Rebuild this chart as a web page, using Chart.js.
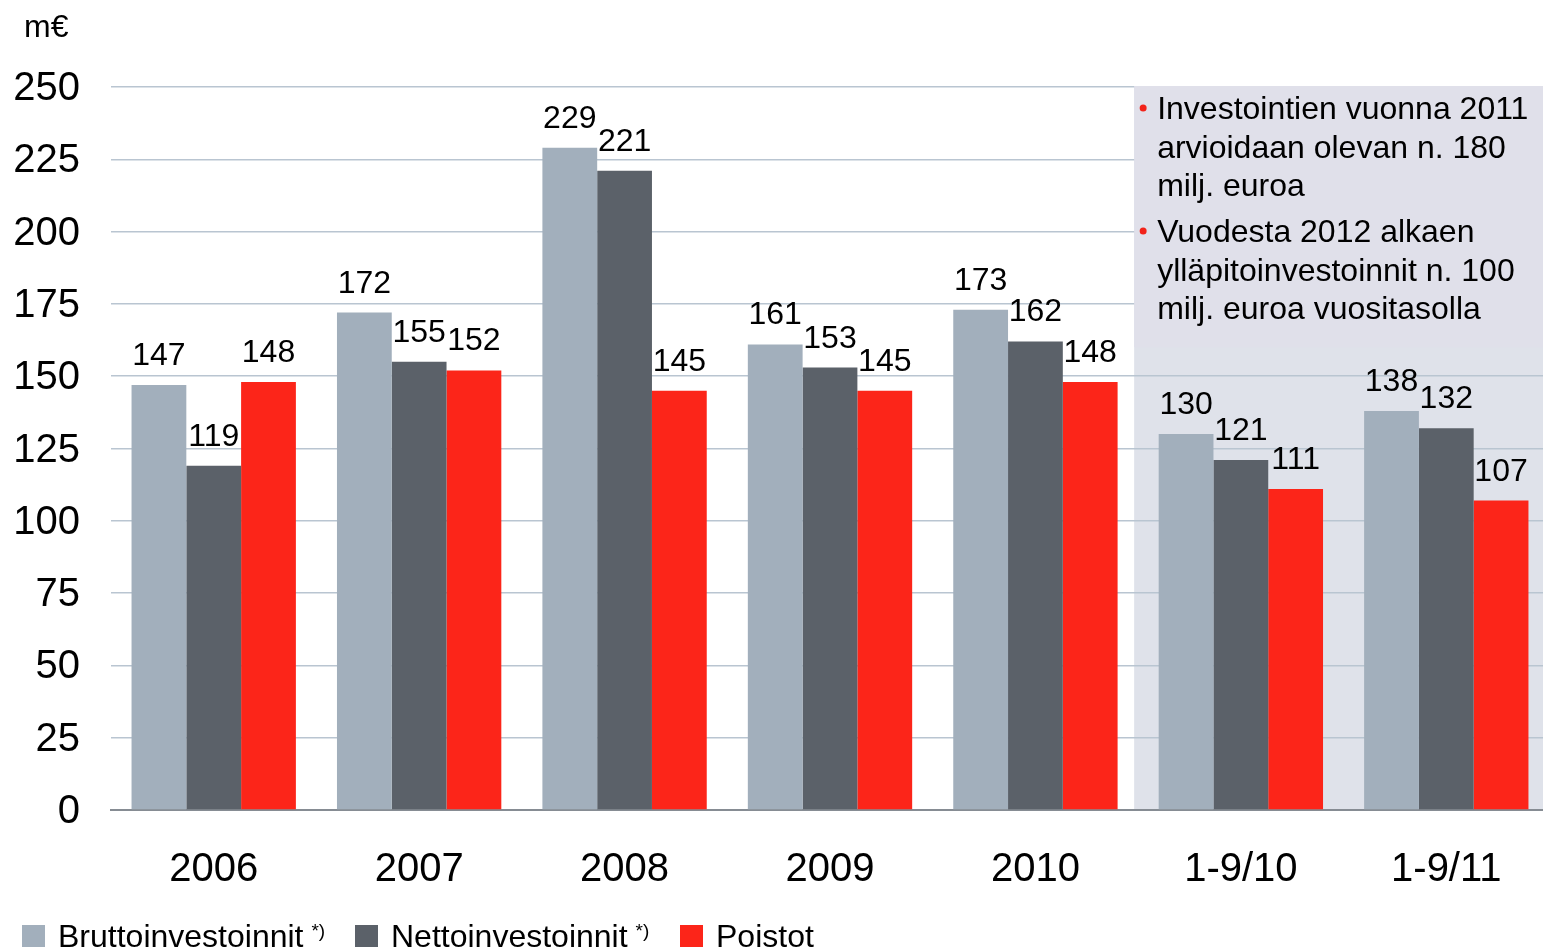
<!DOCTYPE html>
<html>
<head>
<meta charset="utf-8">
<script src="https://cdn.jsdelivr.net/npm/chart.js@4.4.1/dist/chart.umd.min.js"></script>
<style>
  html, body { margin: 0; padding: 0; background: #ffffff; overflow: hidden; }
  #wrap { position: relative; width: 1549px; height: 952px; }
  canvas { display: block; }
</style>
</head>
<body>
<div id="wrap"><canvas id="chart" width="1549" height="952"></canvas></div>
<script>
// Investments and depreciation, m€
const categories = ['2006', '2007', '2008', '2009', '2010', '1-9/10', '1-9/11'];
const brutto = [147, 172, 229, 161, 173, 130, 138];
const netto = [119, 155, 221, 153, 162, 121, 132];
const poistot = [148, 152, 145, 145, 148, 111, 107];
const yTicks = [0, 25, 50, 75, 100, 125, 150, 175, 200, 225, 250];

const seriesNames = ['Bruttoinvestoinnit', 'Nettoinvestoinnit', 'Poistot'];
const seriesNotes = ['*)', '*)', ''];
const seriesColors = ['#a2afbc', '#5b6169', '#fc2519'];

const noteLines = [
  ['Investointien vuonna 2011', 'arvioidaan olevan n. 180', 'milj. euroa'],
  ['Vuodesta 2012 alkaen', 'ylläpitoinvestoinnit n. 100', 'milj. euroa vuositasolla']
];

const FONT = '"Liberation Sans", Arial, Helvetica, sans-serif';

function shadeLeft(scales) {
  return (scales.x.getPixelForValue(4) + scales.x.getPixelForValue(5)) / 2 - 4;
}

// shaded column behind the interim periods
const shadePlugin = {
  id: 'shade',
  beforeDraw(chart) {
    const { ctx, chartArea, scales } = chart;
    const x0 = shadeLeft(scales);
    ctx.save();
    ctx.fillStyle = '#dfe2ea';
    ctx.fillRect(x0, chartArea.top - 1, chart.width - x0, chartArea.bottom - chartArea.top + 1);
    ctx.restore();
  },
  beforeDatasetsDraw(chart) {
    // note box sits over the gridlines
    const { ctx, chartArea, scales } = chart;
    const x0 = shadeLeft(scales);
    const yBottom = scales.y.getPixelForValue(160);
    ctx.save();
    ctx.fillStyle = '#e0e0ea';
    ctx.fillRect(x0, chartArea.top - 1, chart.width - x0, yBottom - chartArea.top + 1);

    ctx.font = '32px ' + FONT;
    ctx.fillStyle = '#000000';
    ctx.textAlign = 'left';
    ctx.textBaseline = 'alphabetic';
    const tx = x0 + 23;
    let y = chartArea.top + 32;
    noteLines.forEach((para) => {
      ctx.save();
      ctx.fillStyle = '#f2231a';
      ctx.beginPath();
      ctx.arc(x0 + 9, y - 11, 3.5, 0, Math.PI * 2);
      ctx.fill();
      ctx.restore();
      para.forEach(line => {
        ctx.fillText(line, tx, y);
        y += 38.5;
      });
      y += 7.5;
    });
    ctx.restore();
  }
};

// value labels above bars
const valueLabelPlugin = {
  id: 'valueLabels',
  afterDatasetsDraw(chart) {
    const { ctx } = chart;
    ctx.save();
    ctx.font = '32px ' + FONT;
    ctx.fillStyle = '#000000';
    ctx.textAlign = 'center';
    ctx.textBaseline = 'alphabetic';
    chart.data.datasets.forEach((ds, di) => {
      const meta = chart.getDatasetMeta(di);
      meta.data.forEach((bar, i) => {
        ctx.fillText(String(ds.data[i]), bar.x, bar.y - 20);
      });
    });
    ctx.restore();
  }
};

// unit label and legend with footnote marks
const extrasPlugin = {
  id: 'extras',
  afterDraw(chart) {
    const { ctx } = chart;
    ctx.save();
    ctx.fillStyle = '#000000';
    ctx.textBaseline = 'alphabetic';
    ctx.textAlign = 'left';
    ctx.font = '32px ' + FONT;
    ctx.fillText('m€', 24, 37);

    const boxX = [22, 355, 680];
    seriesNames.forEach((name, i) => {
      ctx.fillStyle = seriesColors[i];
      ctx.fillRect(boxX[i], 925, 23, 22);
      ctx.fillStyle = '#000000';
      ctx.font = '32px ' + FONT;
      const tx = boxX[i] + 36;
      ctx.fillText(name, tx, 947);
      if (seriesNotes[i]) {
        const w = ctx.measureText(name).width;
        ctx.font = '19px ' + FONT;
        ctx.fillText(seriesNotes[i], tx + w + 8, 937);
      }
    });
    ctx.restore();
  }
};

new Chart(document.getElementById('chart'), {
  type: 'bar',
  data: {
    labels: categories,
    datasets: [
      { label: seriesNames[0], data: brutto, backgroundColor: seriesColors[0] },
      { label: seriesNames[1], data: netto, backgroundColor: seriesColors[1] },
      { label: seriesNames[2], data: poistot, backgroundColor: seriesColors[2] }
    ]
  },
  options: {
    responsive: false,
    animation: false,
    devicePixelRatio: 1,
    layout: { padding: { top: 87, left: 0, right: 0, bottom: 0 } },
    datasets: { bar: { categoryPercentage: 0.8, barPercentage: 1.0, borderWidth: 0 } },
    plugins: { legend: { display: false }, tooltip: { enabled: false } },
    scales: {
      x: {
        grid: { display: false, drawTicks: false },
        border: { display: true, color: '#868c93', width: 2 },
        ticks: { color: '#000000', font: { family: FONT, size: 40 }, padding: 36, maxRotation: 0, autoSkip: false },
        afterFit(scale) { scale.height = 142; }
      },
      y: {
        min: 0,
        max: 250,
        afterBuildTicks(scale) { scale.ticks = yTicks.map(v => ({ value: v })); },
        grid: { color: '#b9c5d1', lineWidth: 1.5, drawTicks: false },
        border: { display: false },
        ticks: { color: '#000000', font: { family: FONT, size: 40 }, padding: 31, labelOffset: 2 },
        afterFit(scale) { scale.width = 111; }
      }
    }
  },
  plugins: [shadePlugin, valueLabelPlugin, extrasPlugin]
});
</script>
</body>
</html>
